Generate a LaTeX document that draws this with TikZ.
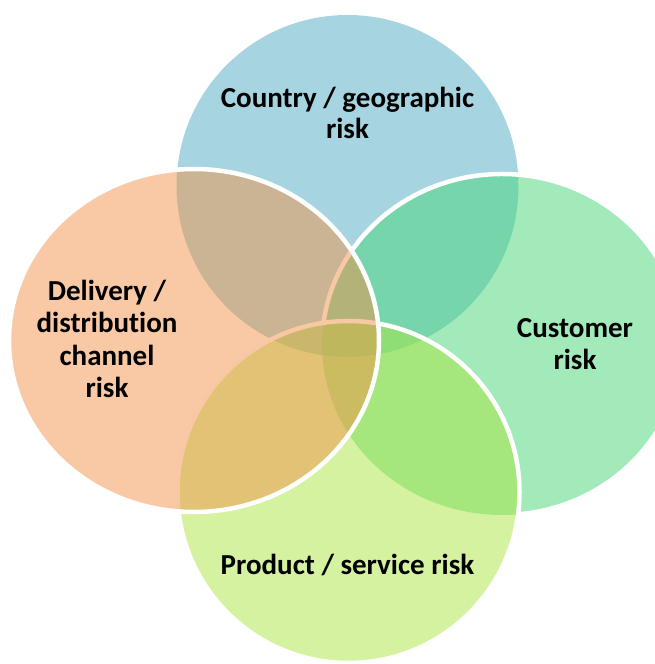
\documentclass[tikz,border=0pt]{standalone}
\usepackage{fontspec}
\setmainfont{Carlito}[Ligatures=NoCommon]
\definecolor{cblue}{RGB}{77,171,195}
\definecolor{cgreen}{RGB}{71,213,117}
\definecolor{cprod}{RGB}{169,229,65}
\definecolor{corange}{RGB}{241,147,73}
\begin{document}
\begin{tikzpicture}[x=1pt,y=1pt,
  outl/.style={draw=white, line width=4.5pt},
  lbl/.style={font=\bfseries\fontsize{29}{32.5}\selectfont, align=center, text=black, inner sep=0pt}]
\clip (0,0) rectangle (655,664);
% blue circle
\fill[cblue, opacity=.5] (347.5,478) circle[radius=171pt];
% green (customer)
\fill[cgreen, opacity=.5] (502,319.5) ellipse[x radius=180pt, y radius=170.5pt];
\draw[outl] (502,319.5) ++(-85:180pt and 170.5pt) arc[start angle=-85, end angle=173.5, x radius=180pt, y radius=170.5pt];
% product
\fill[cprod, opacity=.5] (348.5,172) circle[radius=171pt];
\draw[outl] (348.5,172) circle[radius=171pt];
% orange (delivery)
\fill[corange, opacity=.5] (194,323.5) ellipse[x radius=185pt, y radius=171.5pt];
\draw[outl] (194,323.5) ellipse[x radius=185pt, y radius=171.5pt];
% labels
\node[lbl, font=\bfseries\fontsize{29}{31}\selectfont] (country) at (347.5,551.5) {Country / geographic\\risk};
\node[lbl] (delivery) at (107,325) {Delivery /\\distribution\\channel\\risk};
\node[lbl] (customer) at (575,320) {Customer\\risk};
\node[lbl, anchor=base] (product) at (347.5,89) {Product / service risk};
\end{tikzpicture}
\end{document}
